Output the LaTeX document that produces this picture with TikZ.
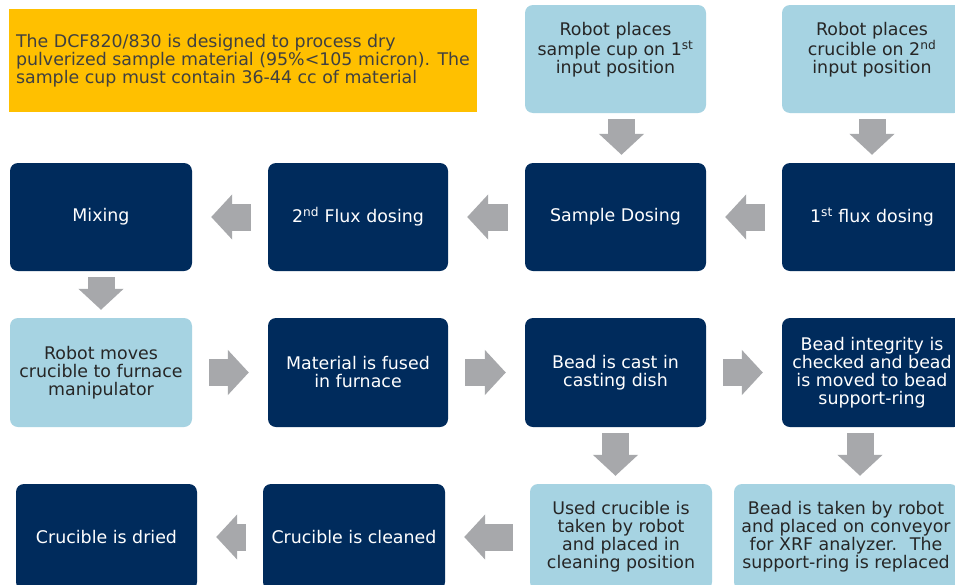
\documentclass[tikz,border=0pt]{standalone}
\usepackage{fontspec}
\setmainfont{DejaVu Sans}
\usepackage{xcolor}
\usepackage{tikz}
\usetikzlibrary{arrows.meta}
\definecolor{navybox}{HTML}{002B5C}
\definecolor{skybox}{HTML}{A6D3E2}
\definecolor{notebox}{HTML}{FFC000}
\definecolor{notetext}{HTML}{404040}
\definecolor{inktext}{HTML}{262626}
\definecolor{flowgray}{HTML}{A7A8AB}

\begin{document}
\begin{tikzpicture}[x=1pt,y=-1pt,
  every node/.style={font=\fontsize{17.4}{18}\selectfont,align=center,inner sep=2pt},
  darkstep/.style={rounded corners=8pt,fill=navybox,text=white,minimum width=181pt,minimum height=108pt},
  lightstep/.style={rounded corners=8pt,fill=skybox,text=inktext,minimum width=181pt,minimum height=108pt},
  raised/.style={text depth=22pt},
  flow/.style={draw=flowgray,line width=27pt,-{Triangle[width=44pt,length=21pt]},shorten <=17pt,shorten >=19pt},
  vflow/.style={shorten <=6pt,shorten >=8pt}]
\fill[white] (0,0) rectangle (955,584);
\clip (0,0) rectangle (955,584);
\node[fill=notebox,text=notetext,align=left,minimum width=468pt,minimum height=103pt] (note) at (243,60.5) {The DCF820/830 is designed to process dry\\pulverized sample material (95\%<105 micron). The\\sample cup must contain 36-44 cc of material};
\node[lightstep,raised] (cup) at (615.5,59) {Robot places\\sample cup on 1\textsuperscript{st}\\input position};
\node[lightstep,raised,minimum width=180pt] (crucible) at (872,59) {Robot places\\crucible on 2\textsuperscript{nd}\\input position};

\node[darkstep,minimum width=182pt] (mixing) at (101,217) {Mixing};
\node[darkstep,minimum width=180pt] (fluxtwo) at (358,217) {2\textsuperscript{nd} Flux dosing};
\node[darkstep] (dosing) at (615.5,217) {Sample Dosing};
\node[darkstep,minimum width=180pt] (fluxone) at (872,217) {1\textsuperscript{st} flux dosing};

\node[lightstep,minimum width=182pt,minimum height=109pt] (tofurnace) at (101,372.5) {Robot moves\\crucible to furnace\\manipulator};
\node[darkstep,minimum width=180pt,minimum height=109pt] (fused) at (358,372.5) {Material is fused\\in furnace};
\node[darkstep,minimum height=109pt] (cast) at (615.5,372.5) {Bead is cast in\\casting dish};
\node[darkstep,minimum width=180pt,minimum height=109pt] (integrity) at (872,372.5) {Bead integrity is\\checked and bead\\is moved to bead\\support-ring};

\node[darkstep,minimum height=106pt] (dried) at (106.5,537) {Crucible is dried};
\node[darkstep,minimum width=182pt,minimum height=106pt] (cleaned) at (354,537) {Crucible is cleaned};
\node[lightstep,minimum width=182pt,minimum height=106pt] (used) at (621,537) {Used crucible is\\taken by robot\\and placed in\\cleaning position};
\node[lightstep,minimum width=224pt,minimum height=106pt] (conveyor) at (846,537) {Bead is taken by robot\\and placed on conveyor\\for XRF analyzer.~ The\\support-ring is replaced};

\draw[flow,vflow] ([xshift=6pt]cup.south) -- ([xshift=6pt]dosing.north);
\draw[flow,vflow] (crucible) -- (fluxone);
\draw[flow] (fluxone) -- (dosing);
\draw[flow] (dosing) -- (fluxtwo);
\draw[flow] (fluxtwo) -- (mixing);
\draw[flow,vflow] (mixing) -- (tofurnace);
\draw[flow] (tofurnace) -- (fused);
\draw[flow] (fused) -- (cast);
\draw[flow] (cast) -- (integrity);
\draw[flow,vflow] (cast.south) -- (cast.south |- used.north);
\draw[flow,vflow] ([xshift=-12pt]integrity.south) -- ([xshift=-12pt]integrity.south |- conveyor.north);
\draw[flow] (used) -- (cleaned);
\draw[flow] (cleaned) -- (dried);
\end{tikzpicture}
\end{document}
